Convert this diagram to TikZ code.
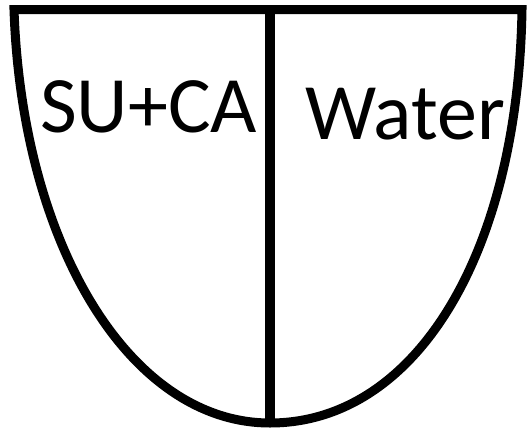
\documentclass[tikz,border=0pt]{standalone}
\usepackage{fontspec}
\setmainfont{Carlito}
\begin{document}
\begin{tikzpicture}[x=1pt,y=-1pt,
  outline/.style={line width=9pt,line join=miter},
  lbl/.style={font=\fontsize{80}{90}\selectfont,inner sep=0pt,anchor=base west}]
\useasboundingbox (0,0) rectangle (531,429);
\coordinate (tl) at (14,9.5);
\coordinate (tr) at (522,9.5);
\coordinate (bot) at (270,423);
\coordinate (top) at (270,9.5);
\draw[outline] (bot) .. controls (130,423) and (22,245) .. (tl) -- (tr)
  .. controls (518,255) and (415,423) .. (bot) -- cycle;
\draw[line width=10pt] (top) -- (bot);
\node[lbl] (su) at (40,132) {SU+CA};
\node[lbl] (w) at (305,139) {Water};
\end{tikzpicture}
\end{document}
